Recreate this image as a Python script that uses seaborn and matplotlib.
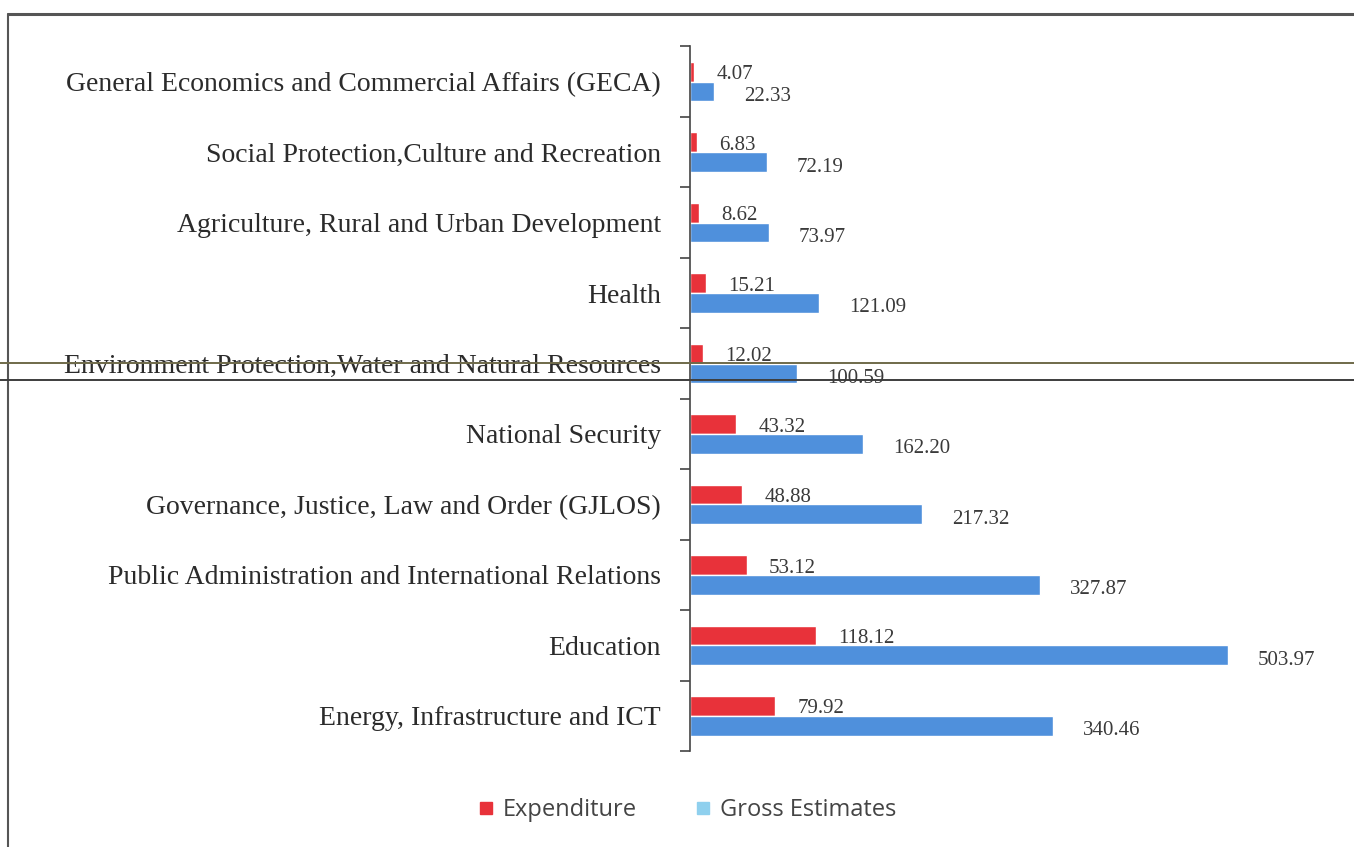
import matplotlib
matplotlib.use("Agg")
import matplotlib.pyplot as plt
from matplotlib.lines import Line2D
import seaborn as sns
import pandas as pd

# values (top to bottom)
sectors = [
    "General Economics and Commercial Affairs (GECA)",
    "Social Protection,Culture and Recreation",
    "Agriculture, Rural and Urban Development",
    "Health",
    "Environment Protection,Water and Natural Resources",
    "National Security",
    "Governance, Justice, Law and Order (GJLOS)",
    "Public Administration and International Relations",
    "Education",
    "Energy, Infrastructure and ICT",
]
expenditure = [4.07, 6.83, 8.62, 15.21, 12.02, 43.32, 48.88, 53.12, 118.12, 79.92]
gross_estimates = [22.33, 72.19, 73.97, 121.09, 100.59, 162.20, 217.32, 327.87, 503.97, 340.46]
series = ["Expenditure", "Gross Estimates"]

RED = "#e8323a"
BLUE = "#4f90dc"
LEGEND_BLUE = "#8fd0ee"

df = pd.DataFrame({
    "sector": sectors * 2,
    "value": expenditure + gross_estimates,
    "series": [series[0]] * len(sectors) + [series[1]] * len(sectors),
})

sns.set_theme(style="white")
W, H = 1354, 847
fig = plt.figure(figsize=(W / 100, H / 100), dpi=100)
ax = fig.add_axes([690 / W, 1 - 751 / H, 650 / W, (751 - 46.5) / H])

sns.barplot(data=df, y="sector", x="value", hue="series", hue_order=series,
            order=sectors, orient="h", palette=[RED, BLUE], width=0.56,
            saturation=1, dodge=True, legend=False, ax=ax)

ax.set_xlim(0, 650 / 1.067)
ax.set_ylim(len(sectors) - 0.5, -0.5)
ax.set_xlabel(""); ax.set_ylabel("")
ax.set_xticks([])

# category labels at group centres, tick marks between groups
ax.set_yticks([i - 0.5 for i in range(len(sectors) + 1)], minor=True)
ax.tick_params(axis="y", which="major", left=True, length=0, pad=21)
ax.tick_params(axis="y", which="minor", left=True, length=7, width=1.2,
               color="#444", direction="out")
for lbl in ax.get_yticklabels():
    lbl.set_family("Liberation Serif")
    lbl.set_fontsize(20)
    lbl.set_color("#2b2b2b")

for side in ["top", "right", "bottom"]:
    ax.spines[side].set_visible(False)
ax.spines["left"].set_color("#444")
ax.spines["left"].set_linewidth(1.2)

# value labels
for cont, dx, dy in [(ax.containers[0], 22, -3), (ax.containers[1], 30, -5)]:
    for bar in cont:
        w = bar.get_width()
        ax.annotate(f"{w:.2f}", xy=(w, bar.get_y() + bar.get_height() / 2),
                    xytext=(dx, dy), textcoords="offset pixels",
                    ha="left", va="center", fontsize=15,
                    family="Liberation Serif", color="#3a3a3a")

# legend
handles = [Line2D([], [], marker="s", linestyle="", markersize=8, color=c)
           for c in (RED, LEGEND_BLUE)]
fig.legend(handles, series, loc="center", bbox_to_anchor=(684 / W, 1 - 810 / H),
           ncol=2, frameon=False, handletextpad=0.1, handlelength=1.2,
           columnspacing=2.2, prop={"family": "Open Sans", "size": 17},
           labelcolor="#444")

# page frame and scan lines
fig.add_artist(Line2D([8 / W, 1], [1 - 14 / H] * 2, color="#555", lw=2.2))
fig.add_artist(Line2D([8 / W] * 2, [1 - 14 / H, 0], color="#555", lw=1.5))
fig.add_artist(Line2D([0, 1], [1 - 363 / H] * 2, color="#6f6a4a", lw=1.4))
fig.add_artist(Line2D([0, 1], [1 - 380 / H] * 2, color="#3d3d3d", lw=1.4))

fig.savefig("out.png", dpi=100)
